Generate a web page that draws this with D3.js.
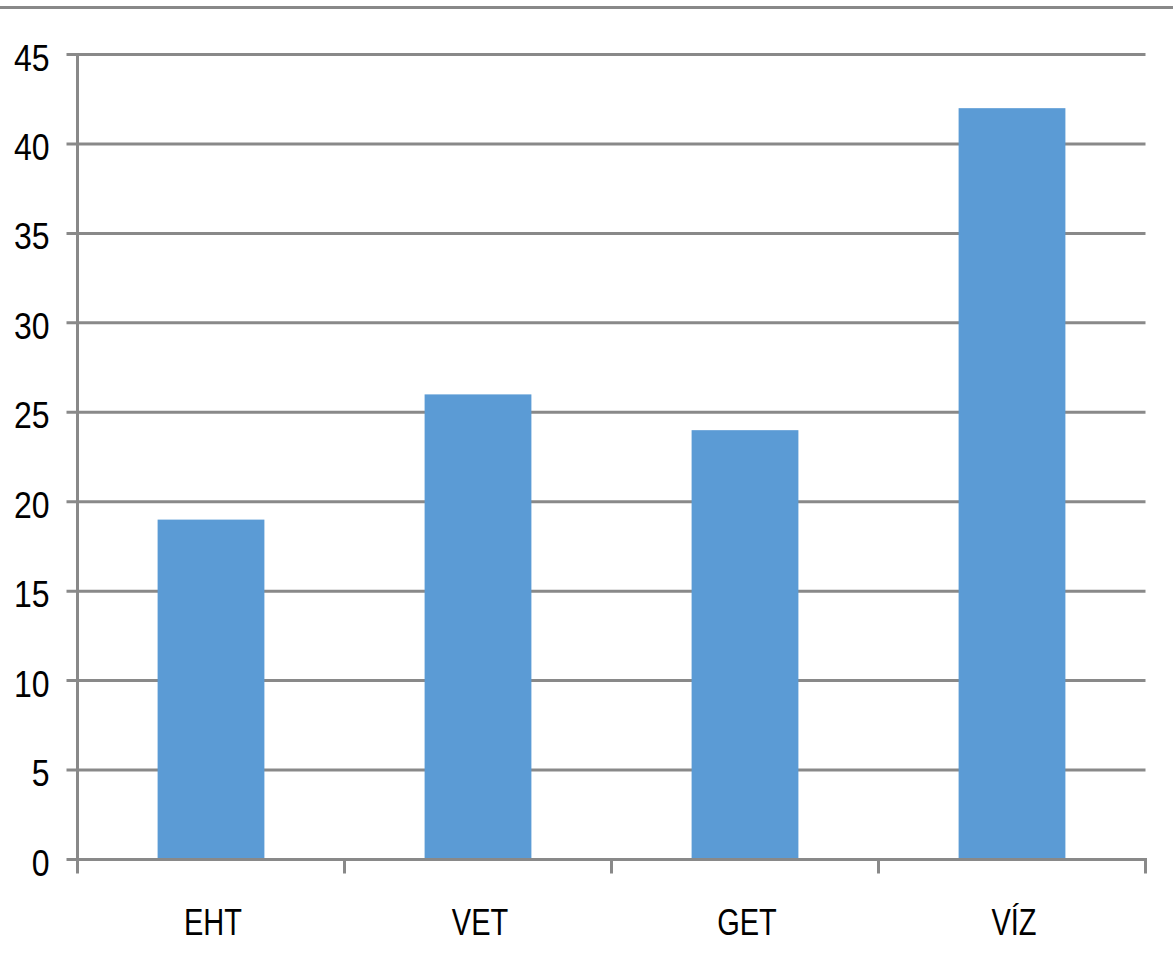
<!DOCTYPE html>
<html>
<head>
<meta charset="utf-8">
<script src="https://cdn.jsdelivr.net/npm/d3@7"></script>
<style>
  html, body { margin: 0; padding: 0; background: #fff; }
  svg { display: block; }
  text { font-family: "Liberation Sans", Arial, sans-serif; fill: #000; }
</style>
</head>
<body>
<svg id="chart" width="1173" height="967"></svg>
<script>
// Category labels and bar values
const categories = ["EHT", "VET", "GET", "VÍZ"];
const values = [19, 26, 24, 42];
const yTicks = [0, 5, 10, 15, 20, 25, 30, 35, 40, 45];

const W = 1173, H = 967;
const plot = { left: 77.5, right: 1145.5, top: 54.5, bottom: 859.5 };
const gridColor = "#898989";
const barColor = "#5B9BD5";

const svg = d3.select("#chart");

// Frame line across the top of the chart area
svg.append("line")
  .attr("x1", 0).attr("x2", W)
  .attr("y1", 7.5).attr("y2", 7.5)
  .attr("stroke", gridColor).attr("stroke-width", 3);

const x = d3.scaleBand()
  .domain(categories)
  .range([plot.left, plot.right])
  .paddingInner(0.6)
  .paddingOuter(0.3);

const y = d3.scaleLinear()
  .domain([0, 45])
  .range([plot.bottom, plot.top]);

// Horizontal gridlines (with short outward ticks on the left)
svg.append("g")
  .selectAll("line")
  .data(yTicks)
  .join("line")
  .attr("x1", plot.left - 11)
  .attr("x2", plot.right)
  .attr("y1", d => y(d))
  .attr("y2", d => y(d))
  .attr("stroke", gridColor)
  .attr("stroke-width", 3);

// Bars
svg.append("g")
  .selectAll("rect")
  .data(values)
  .join("rect")
  .attr("x", (d, i) => x(categories[i]))
  .attr("width", x.bandwidth())
  .attr("y", d => y(d))
  .attr("height", d => y(0) - y(d))
  .attr("fill", barColor);

// Y axis
const yAxis = svg.append("g")
  .attr("transform", `translate(${plot.left},0)`)
  .call(d3.axisLeft(y).tickValues(yTicks).tickSize(0).tickFormat(d3.format("d")));
yAxis.select(".domain")
  .attr("stroke", gridColor).attr("stroke-width", 3)
  .attr("d", `M0,${plot.top - 1.5}V${plot.bottom + 14}`);
yAxis.selectAll(".tick text")
  .attr("x", null).attr("dy", null)
  .attr("text-anchor", "end")
  .attr("transform", "translate(-28,15.5) scale(1,1.17)")
  .style("font-size", "32px");

// X axis with category boundary ticks
const xAxis = svg.append("g")
  .attr("transform", `translate(0,${plot.bottom})`)
  .call(d3.axisBottom(x).tickSize(0));
xAxis.select(".domain")
  .attr("stroke", gridColor).attr("stroke-width", 3)
  .attr("d", `M${plot.left - 1.5},0H${plot.right + 1.5}`);
xAxis.selectAll(".tick text")
  .attr("y", null).attr("dy", null)
  .attr("text-anchor", "middle")
  .attr("transform", "translate(2,75.5) scale(1,1.26)")
  .style("font-size", "29px");

const step = x.step();
const boundaries = d3.range(categories.length + 1).map(i => plot.left + i * step);
xAxis.append("g")
  .selectAll("line")
  .data(boundaries.slice(1))
  .join("line")
  .attr("x1", d => d).attr("x2", d => d)
  .attr("y1", 0).attr("y2", 14)
  .attr("stroke", gridColor).attr("stroke-width", 3);
</script>
</body>
</html>
